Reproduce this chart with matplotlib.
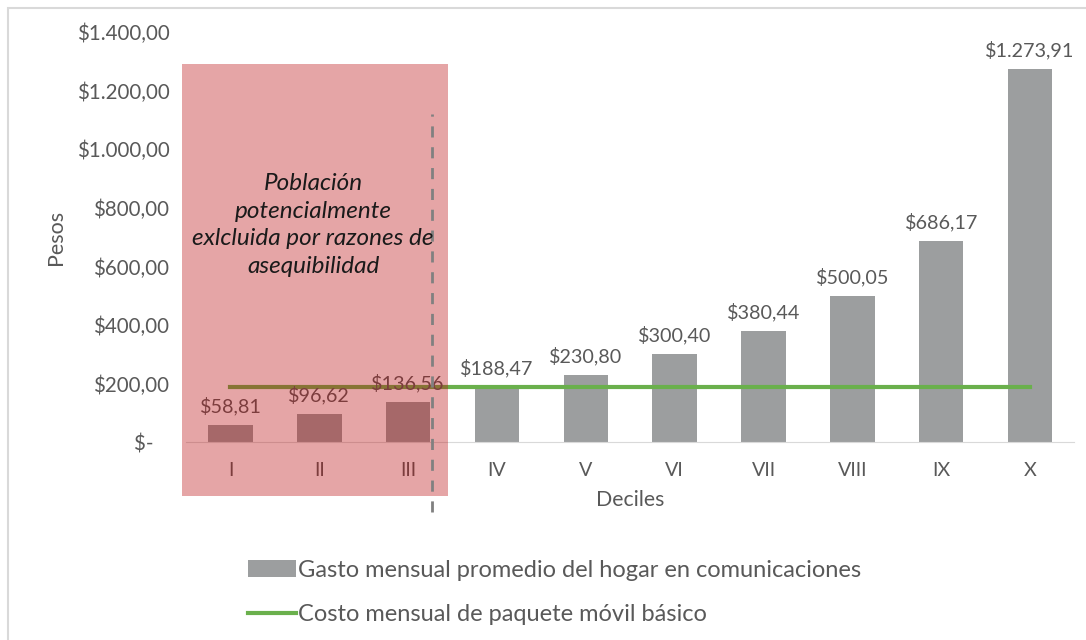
import matplotlib.pyplot as plt
from matplotlib.patches import Rectangle, Patch
from matplotlib.lines import Line2D

plt.rcParams['font.family'] = ['Lato', 'DejaVu Sans']

deciles = ['I', 'II', 'III', 'IV', 'V', 'VI', 'VII', 'VIII', 'IX', 'X']
gasto = [58.81, 96.62, 136.56, 188.47, 230.80, 300.40, 380.44, 500.05, 686.17, 1273.91]
costo_paquete = 190.0
yticks = [0, 200, 400, 600, 800, 1000, 1200, 1400]
ytick_labels = ['$-   ', '$200,00', '$400,00', '$600,00', '$800,00',
                '$1.000,00', '$1.200,00', '$1.400,00']
nota = 'Población\npotencialmente\nexlcluida por razones de\nasequibilidad'

txt = '#595959'
gris = '#9c9e9f'
verde = '#6ab04c'

fig = plt.figure(figsize=(10.86, 6.4), dpi=100)
ax = fig.add_axes([0.1713, 0.309, 0.8181, 0.641])

x = list(range(len(deciles)))
ax.bar(x, gasto, width=0.5, color=gris, zorder=2)
ax.plot([0, 9], [costo_paquete, costo_paquete], color=verde, lw=3, zorder=3)

for xi, v in zip(x, gasto):
    s = f'${v:,.2f}'.replace(',', 'X').replace('.', ',').replace('X', '.')
    ax.text(xi, v + 33, s, ha='center', va='bottom', fontsize=14.2, color=txt, zorder=4)

ax.set_xlim(-0.5, 9.5)
ax.set_ylim(0, 1400)
ax.set_xticks(x)
ax.set_xticklabels(deciles, fontsize=14.2, color=txt)
ax.set_yticks(yticks)
ax.set_yticklabels(ytick_labels, fontsize=14.8, color=txt)
ax.tick_params(length=0, pad=14)
ax.tick_params(axis='y', pad=12)
for sp in ['top', 'right', 'left']:
    ax.spines[sp].set_visible(False)
ax.spines['bottom'].set_color('#d9d9d9')
ax.set_xlabel('Deciles', fontsize=15.3, color=txt, labelpad=8)
ax.set_ylabel('Pesos', fontsize=15.5, color=txt, labelpad=8)

# zona excluida
ax.add_patch(Rectangle((-0.55, -184), 3.0, 1474, facecolor=(0.725, 0.05, 0.06),
                       alpha=0.37, lw=0, clip_on=False, zorder=5))
ax.plot([2.27, 2.27], [-239, 1120], color='#808080', lw=2, ls=(0, (4, 3.5)),
        clip_on=False, zorder=6)
ax.text(0.93, 741, nota, ha='center', va='center', fontsize=17.5, style='italic',
        color='#1a1a1a', linespacing=1.38, zorder=7)

handles = [Patch(facecolor=gris, edgecolor='none'),
           Line2D([0], [0], color=verde, lw=3)]
labels = ['Gasto mensual promedio del hogar en comunicaciones',
          'Costo mensual de paquete móvil básico']
fig.legend(handles, labels, loc='upper left', bbox_to_anchor=(0.22, 0.14),
           frameon=False, fontsize=17, labelcolor=txt, handlelength=2.0,
           handletextpad=0.1, labelspacing=1.0, borderaxespad=0)

fig.patches.append(Rectangle((8 / 1086, -0.02), 1.1, 1 - 8 / 640 + 0.02,
                             transform=fig.transFigure, fill=False,
                             edgecolor='#d9d9d9', lw=1.5))

fig.savefig('out.png', dpi=100)
